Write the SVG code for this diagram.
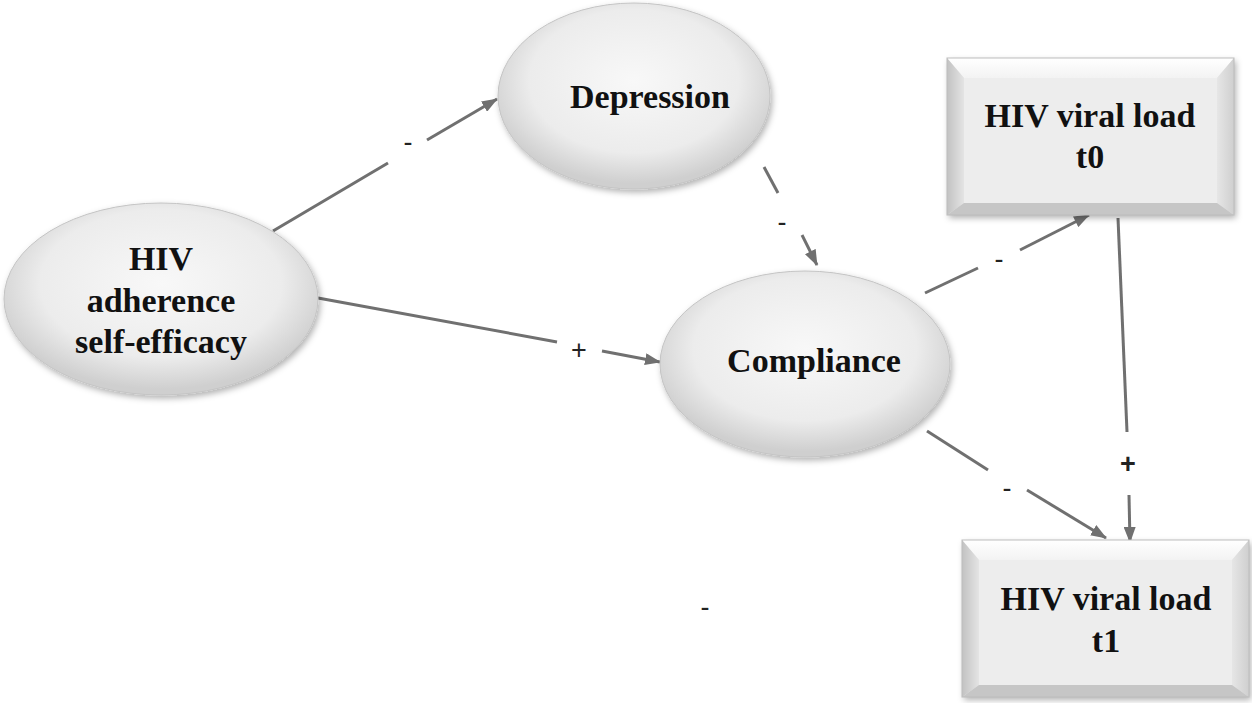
<svg xmlns="http://www.w3.org/2000/svg" width="1252" height="703" viewBox="0 0 1252 703">
<style>
.node-text{font-family:"Liberation Serif","Times New Roman",serif;font-weight:bold;font-size:34px;fill:#111;text-anchor:middle}
.edge{stroke:#707070;stroke-width:3;fill:none}
.lbl{font-family:"Liberation Sans",Arial,sans-serif;font-size:27px;fill:#222;text-anchor:middle}
.ell{fill:url(#ellGrad);stroke:#c4c4c4;stroke-width:1;filter:url(#shadow)}
</style>
<defs>
<radialGradient id="ellGrad" cx="50%" cy="42%" r="55%">
<stop offset="0" stop-color="#f8f8f8"/>
<stop offset="0.7" stop-color="#ececec"/>
<stop offset="1" stop-color="#cfcfcf"/>
</radialGradient>
<linearGradient id="leftBev" x1="0" y1="0" x2="1" y2="0">
<stop offset="0" stop-color="#c2c2c2"/>
<stop offset="1" stop-color="#e4e4e4"/>
</linearGradient>
<linearGradient id="topBev" x1="0" y1="0" x2="0" y2="1">
<stop offset="0" stop-color="#ffffff"/>
<stop offset="1" stop-color="#f3f3f3"/>
</linearGradient>
<linearGradient id="rightBev" x1="0" y1="0" x2="1" y2="0">
<stop offset="0" stop-color="#e6e6e6"/>
<stop offset="1" stop-color="#cfcfcf"/>
</linearGradient>
<filter id="shadow" x="-10%" y="-10%" width="125%" height="130%">
<feDropShadow dx="2" dy="3" stdDeviation="3" flood-color="#000" flood-opacity="0.3"/>
</filter>
<marker id="arr" markerUnits="userSpaceOnUse" markerWidth="16" markerHeight="12" refX="15" refY="6" orient="auto">
<path d="M0,0 L16,6 L0,12 z" fill="#707070"/>
</marker>
<g id="bevelbox">
<rect x="0" y="0" width="287" height="157" fill="#e9e9e9" filter="url(#shadow)"/>
<polygon points="0,0 287,0 270,20 17,20" fill="url(#topBev)"/>
<polygon points="0,0 17,20 17,145 0,157" fill="url(#leftBev)"/>
<polygon points="287,0 287,157 270,145 270,20" fill="url(#rightBev)"/>
<polygon points="0,157 17,145 270,145 287,157" fill="#c6c6c6"/>
<rect x="17" y="20" width="253" height="125" fill="#ededed"/>
<rect x="0" y="0" width="287" height="157" fill="none" stroke="#bdbdbd" stroke-width="1"/>
</g>
</defs>
<rect width="1252" height="703" fill="#ffffff"/>

<g id="connectors">
<line class="edge" x1="273" y1="231" x2="388" y2="163"/>
<line class="edge" x1="427" y1="140" x2="497" y2="99" marker-end="url(#arr)"/>
<line class="edge" x1="764" y1="167" x2="778" y2="193"/>
<line class="edge" x1="802" y1="235" x2="817" y2="265" marker-end="url(#arr)"/>
<line class="edge" x1="318" y1="298" x2="557" y2="342"/>
<line class="edge" x1="602" y1="351" x2="660" y2="362" marker-end="url(#arr)"/>
<line class="edge" x1="925" y1="293" x2="978" y2="268"/>
<line class="edge" x1="1020" y1="250" x2="1089" y2="215" marker-end="url(#arr)"/>
<line class="edge" x1="1118" y1="218" x2="1127" y2="432"/>
<line class="edge" x1="1129" y1="495" x2="1130" y2="542" marker-end="url(#arr)"/>
<line class="edge" x1="927" y1="431" x2="988" y2="470"/>
<line class="edge" x1="1027" y1="490" x2="1106" y2="538" marker-end="url(#arr)"/>
<text class="lbl" x="408" y="151">-</text>
<text class="lbl" x="782" y="231">-</text>
<text class="lbl" x="579" y="359">+</text>
<text class="lbl" x="999" y="268">-</text>
<text class="lbl" x="1128" y="473" font-weight="bold" fill="#000">+</text>
<text class="lbl" x="1007" y="497">-</text>
<text class="lbl" x="705" y="616">-</text>
</g>

<g id="node-depression">
<ellipse class="ell" cx="634" cy="96" rx="136" ry="93"/>
<text class="node-text" x="650" y="108">Depression</text>
</g>

<g id="node-adherence">
<ellipse class="ell" cx="161" cy="299" rx="157" ry="96"/>
<text class="node-text" x="161" y="270">HIV</text>
<text class="node-text" x="161" y="312">adherence</text>
<text class="node-text" x="161" y="353">self-efficacy</text>
</g>

<g id="node-compliance">
<ellipse class="ell" cx="805" cy="364" rx="145" ry="93"/>
<text class="node-text" x="814" y="372">Compliance</text>
</g>

<g id="node-t0">
<use href="#bevelbox" x="947" y="58"/>
<text class="node-text" x="1090" y="127">HIV viral load</text>
<text class="node-text" x="1090" y="168">t0</text>
</g>

<g id="node-t1">
<use href="#bevelbox" x="962" y="540"/>
<text class="node-text" x="1106" y="610">HIV viral load</text>
<text class="node-text" x="1106" y="652">t1</text>
</g>
</svg>
